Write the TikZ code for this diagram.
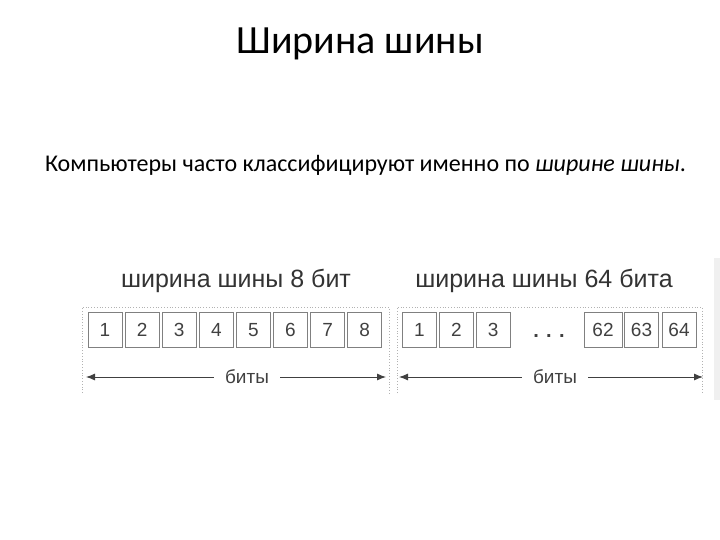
\documentclass[tikz,border=0pt]{standalone}
\usepackage{fontspec}
\setmainfont{Carlito}
\newfontfamily\diagfont{Liberation Sans}
\usetikzlibrary{arrows.meta}

\begin{document}
\begin{tikzpicture}[x=1pt, y=-1pt,
    bitbox/.style={draw=black!50, line width=1pt, minimum width=34pt, minimum height=35pt, inner sep=0pt, text height=13.6pt, text depth=0pt, font=\diagfont\fontsize{19}{19}\selectfont, text=black!75},
    panelframe/.style={draw=black!30, dotted, line width=0.8pt},
    bitsarrow/.style={draw=black!75, line width=0.9pt, -{Latex[length=9pt, width=7pt]}},
    paneltitle/.style={font=\diagfont\fontsize{25}{25}\selectfont, text=black!80},
    bitslabel/.style={font=\diagfont\fontsize{19}{19}\selectfont, text=black!75, inner xsep=11pt}]
      \useasboundingbox (0,0) rectangle (720,540);

      % Slide text
      \node (title) [font=\fontsize{40}{40}\selectfont] at (360,44) {Ширина шины};
      \node (subtitle) [font=\fontsize{24}{24}\selectfont] at (365.5,165) {Компьютеры часто классифицируют именно по \textit{ширине шины}.};

      % Left panel - 8 bits
      \node (ltitle) [paneltitle] at (236,281) {ширина шины 8 бит};
      \draw[panelframe] (82,393) -- (82,307) -- (389,307) -- (389,393);
      \node (l1) [bitbox] at (105,329.5) {1};
      \node (l2) [bitbox] at (142.1,329.5) {2};
      \node (l3) [bitbox] at (179.2,329.5) {3};
      \node (l4) [bitbox] at (216.3,329.5) {4};
      \node (l5) [bitbox] at (253.4,329.5) {5};
      \node (l6) [bitbox] at (290.5,329.5) {6};
      \node (l7) [bitbox] at (327.6,329.5) {7};
      \node (l8) [bitbox] at (364.7,329.5) {8};
      \node (lbits) [bitslabel] at (247,377) {биты};
      \coordinate (lstart) at (86,377);
      \coordinate (lend) at (386,377);
      \draw[bitsarrow] (lbits) -- (lstart);
      \draw[bitsarrow] (lbits) -- (lend);

      % Right panel - 64 bits
      \node (rtitle) [paneltitle] at (544,281) {ширина шины 64 бита};
      \draw[panelframe] (397,393) -- (397,307) -- (702,307) -- (702,393);
      \node (r1) [bitbox] at (419.5,329.5) {1};
      \node (r2) [bitbox] at (456.3,329.5) {2};
      \node (r3) [bitbox] at (493.1,329.5) {3};
      \node (rdots) [font=\diagfont\bfseries\fontsize{20}{20}\selectfont, text=black!75] at (549,336) {. . .};
      \node (r62) [bitbox, minimum width=38pt] at (603,329.5) {62};
      \node (r63) [bitbox] at (641.5,329.5) {63};
      \node (r64) [bitbox] at (679,329.5) {64};
      \node (rbits) [bitslabel] at (555,377) {биты};
      \coordinate (rstart) at (399,377);
      \coordinate (rend) at (703,377);
      \draw[bitsarrow] (rbits) -- (rstart);
      \draw[bitsarrow] (rbits) -- (rend);

      % faint edge of the cropped picture
      \fill[black!6] (714,258) rectangle (720,400);

    \end{tikzpicture}
\end{document}
